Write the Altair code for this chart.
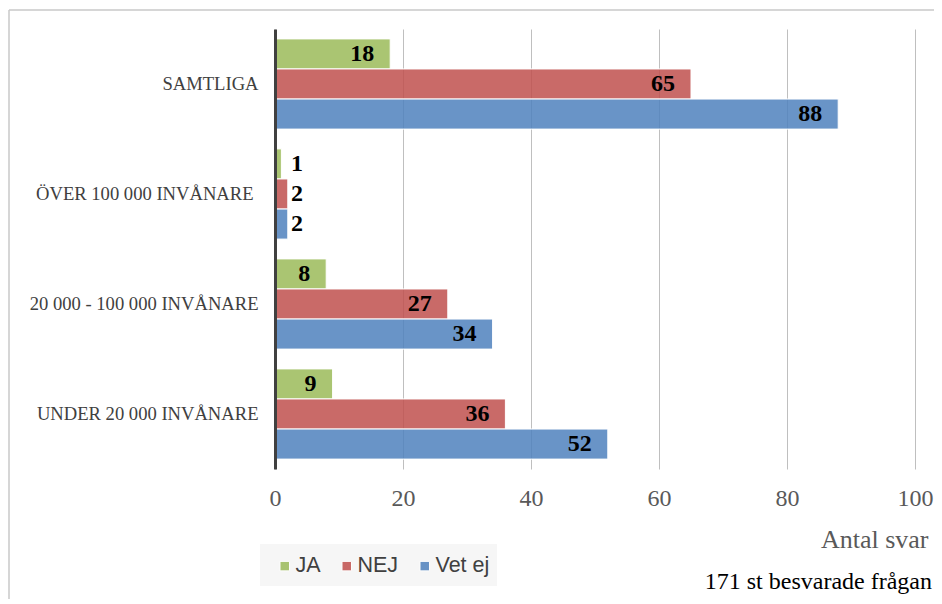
import altair as alt
import pandas as pd

categories = ["SAMTLIGA", "ÖVER 100 000 INVÅNARE", "20 000 - 100 000 INVÅNARE", "UNDER 20 000 INVÅNARE"]
series = ["JA", "NEJ", "Vet ej"]
ja = [18, 1, 8, 9]
nej = [65, 2, 27, 36]
vet = [88, 2, 34, 52]
colors = ["#9BBB59", "#C0504D", "#4F81BD"]
x_ticks = [0, 20, 40, 60, 80, 100]
axis_title = "Antal svar"
note = "171 st besvarade frågan"

rows = []
for s, vals in zip(series, [ja, nej, vet]):
    for c, v in zip(categories, vals):
        rows.append({"cat": c, "serie": s, "v": v})
df = pd.DataFrame(rows)

SERIF = "Liberation Serif"

y_enc = alt.Y(
    "cat:N", sort=categories,
    scale=alt.Scale(paddingInner=0.18, paddingOuter=0.09),
    axis=alt.Axis(title=None, ticks=False,
                  labelPadding=alt.condition(f"datum.value == '{categories[1]}'", alt.value(22), alt.value(17)),
                  labelFont=SERIF,
                  labelFontSize=18.6, labelColor="#404040", domainColor="#404040",
                  domainWidth=3, grid=False, labelLimit=400, zindex=1),
)
yoff = alt.YOffset("serie:N", sort=series, scale=alt.Scale(paddingInner=0, paddingOuter=0))
x_scale = alt.Scale(domain=[0, 100], nice=False)
x_axis = alt.Axis(
    values=x_ticks, grid=True, gridColor="#BFBFBF", gridWidth=1, ticks=False,
    domain=False, labelFont=SERIF, labelFontSize=24, labelColor="#595959",
    labelPadding=29, labelBaseline="middle", labelFlush=False,
    title=axis_title, titleFont=SERIF, titleFontSize=26, titleColor="#595959",
    titleFontWeight="normal", titleAlign="right", titleBaseline="middle",
    titleX=653, titleY=70,
)

base = alt.Chart(df)

bars = base.mark_bar(fillOpacity=0.85, stroke="white", strokeWidth=1).encode(
    x=alt.X("v:Q", scale=x_scale, axis=x_axis),
    y=y_enc,
    yOffset=yoff,
    color=alt.Color(
        "serie:N", sort=series,
        scale=alt.Scale(domain=series, range=colors),
        legend=alt.Legend(
            title=None, orient="none", legendX=-1, legendY=526, direction="horizontal",
            columns=3, symbolType="square", symbolSize=90, labelFont="Liberation Sans",
            labelFontSize=21.5, labelColor="#404040", columnPadding=15, labelOffset=0,
            padding=0, symbolOpacity=0.85, symbolStrokeColor="white", symbolStrokeWidth=1,
        ),
    ),
)

lab_big = base.transform_filter("datum.v >= 5").mark_text(
    align="right", baseline="middle", dx=-16, font=SERIF, fontSize=24,
    fontWeight="bold", color="black",
).encode(x=alt.X("v:Q", scale=x_scale), y=alt.Y("cat:N", sort=categories), yOffset=yoff, text="v:Q")

lab_small = base.transform_filter("datum.v < 5").transform_calculate(lx="2.5").mark_text(
    align="left", baseline="middle", font=SERIF, fontSize=24,
    fontWeight="bold", color="black",
).encode(x=alt.X("lx:Q", scale=x_scale), y=alt.Y("cat:N", sort=categories), yOffset=yoff, text="v:Q")

one = pd.DataFrame({"t": [note]})
legend_box = alt.Chart(one).mark_rect(color="#F6F6F6").encode(
    x=alt.value(-15), x2=alt.value(222), y=alt.value(515), y2=alt.value(557)
)
border_v = alt.Chart(one).mark_rule(color="#C8C8C8", strokeWidth=1.5).encode(
    x=alt.value(-266), y=alt.value(-19), y2=alt.value(600)
)
border_h = alt.Chart(one).mark_rule(color="#C8C8C8", strokeWidth=1.5).encode(
    x=alt.value(-266), x2=alt.value(700), y=alt.value(-19)
)
note_text = alt.Chart(one).mark_text(
    align="right", baseline="middle", font=SERIF, fontSize=24, color="black"
).encode(x=alt.value(657), y=alt.value(553), text="t:N")

chart = alt.layer(legend_box, border_v, border_h, bars, lab_big, lab_small, note_text).properties(
    width=640, height=440,
    padding={"left": 267, "top": 21, "right": 19, "bottom": 130},
    autosize=alt.AutoSizeParams(type="none"),
    background="white",
).configure_view(stroke=None)

chart.save("out.html", embed_options={"renderer": "svg", "actions": False})
